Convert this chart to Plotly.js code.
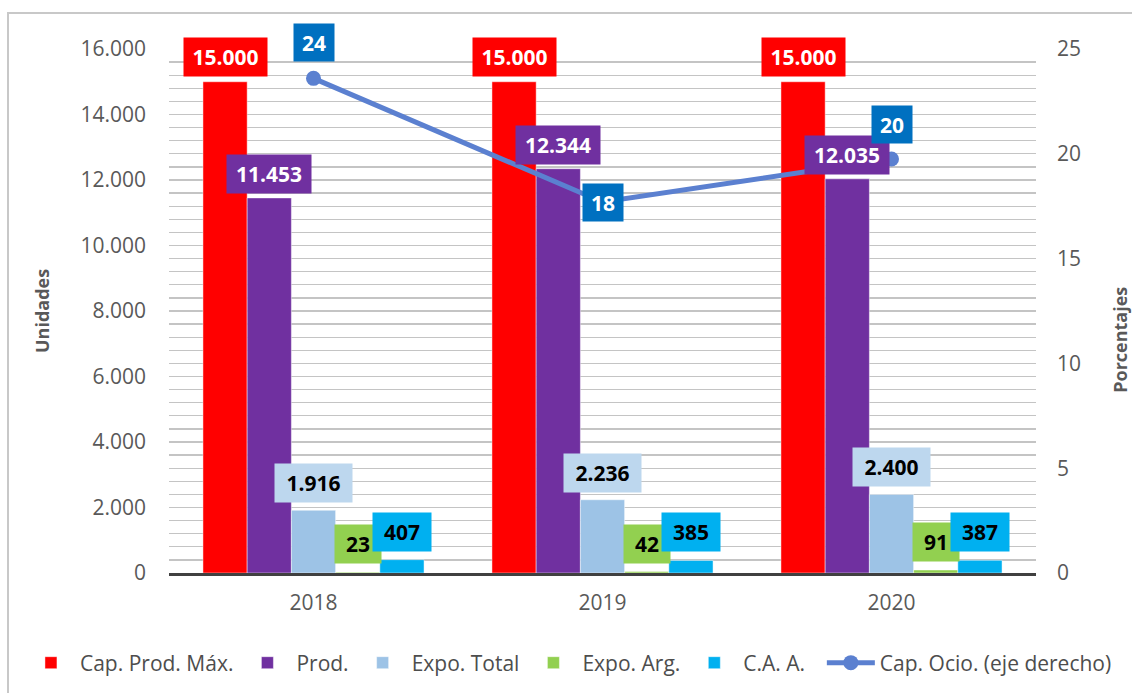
<!DOCTYPE html>
<html>
<head>
<meta charset="utf-8">
<script src="https://cdn.plot.ly/plotly-3.0.1.min.js"></script>
<style>
  html, body { margin: 0; padding: 0; background: #fff; }
  #wrap { position: relative; width: 1132px; height: 693px; overflow: hidden; }
  #chart { position: absolute; left: 0; top: 0; width: 1132px; height: 693px; }
  #frame { position: absolute; left: 7px; top: 12px; width: 1140px; height: 700px;
           border: 2px solid #c8c8c8; pointer-events: none; box-sizing: border-box; }
</style>
</head>
<body>
<div id="wrap"><div id="chart"></div><div id="frame"></div></div>
<script>
// ---- data ----
const categories = ['2018', '2019', '2020'];
const capProdMax = [15000, 15000, 15000];
const prod = [11453, 12344, 12035];
const expoTotal = [1916, 2236, 2400];
const expoArg = [23, 42, 91];
const caa = [407, 385, 387];
const capOcio = [23.6, 17.7, 19.75];
const yTicks = [0, 2000, 4000, 6000, 8000, 10000, 12000, 14000, 16000];
const y2Ticks = [0, 5, 10, 15, 20, 25];

// ---- style ----
const fmt = n => String(Math.round(n)).replace(/\B(?=(\d{3})+(?!\d))/g, '.');
const FONT = 'Open Sans, Liberation Sans, sans-serif';
const barSeries = [
  {name: 'Cap. Prod. Máx.', y: capProdMax, color: '#FF0000', lbg: '#FF0000', lfc: '#FFFFFF', lw: 83, ys: 5},
  {name: 'Prod.', y: prod, color: '#7030A0', lbg: '#7030A0', lfc: '#FFFFFF', lw: 84, ys: 4},
  {name: 'Expo. Total', y: expoTotal, color: '#9DC3E6', lbg: '#BDD7EE', lfc: '#000000', lw: 77, ys: 7},
  {name: 'Expo. Arg.', y: expoArg, color: '#92D050', lbg: '#92D050', lfc: '#000000', lw: 46, ys: 8},
  {name: 'C.A. A.', y: caa, color: '#00B0F0', lbg: '#00B0F0', lfc: '#000000', lw: 58, ys: 8}
];
const bargap = 0.235;
const barW = (1 - bargap) / barSeries.length;
const lineLabel = [{anchor: 'bottom', ys: 16}, {anchor: 'middle', ys: 0}, {anchor: 'bottom', ys: 15}];

const traces = barSeries.map(s => ({
  type: 'bar', name: s.name, x: categories, y: s.y, legend: 'legend',
  marker: {color: s.color, line: {color: 'rgba(255,255,255,0.45)', width: 1}},
  hoverinfo: 'x+y+name'
}));
traces.push({
  type: 'scatter', mode: 'lines+markers', name: 'Cap. Ocio. (eje derecho)',
  x: categories, y: capOcio, yaxis: 'y2', legend: 'legend2',
  line: {color: '#5B80D0', width: 5},
  marker: {color: '#5B80D0', size: 15}
});

const annotations = [];
barSeries.forEach((s, k) => {
  s.y.forEach((v, i) => {
    annotations.push({
      x: i + (k - (barSeries.length - 1) / 2) * barW, y: v, xref: 'x', yref: 'y',
      text: '<b>' + fmt(v) + '</b>', showarrow: false,
      xanchor: 'center', yanchor: 'bottom', yshift: s.ys,
      width: s.lw, height: 38, bgcolor: s.lbg, borderpad: 0,
      font: {family: FONT, size: 21, color: s.lfc}
    });
  });
});
capOcio.forEach((v, i) => {
  annotations.push({
    x: i, y: v, xref: 'x', yref: 'y2',
    text: '<b>' + fmt(v) + '</b>', showarrow: false,
    xanchor: 'center', yanchor: lineLabel[i].anchor, yshift: lineLabel[i].ys,
    width: 40, height: 37, bgcolor: '#0070C0', borderpad: 0,
    font: {family: FONT, size: 21, color: '#FFFFFF'}
  });
});
annotations.push({
  xref: 'paper', yref: 'paper', x: 0, y: 0.5, xshift: -127, xanchor: 'center', yanchor: 'middle',
  text: '<b>Unidades</b>', textangle: -90, showarrow: false,
  font: {family: FONT, size: 18, color: '#595959'}
});
annotations.push({
  xref: 'paper', yref: 'paper', x: 1, y: 0.445, xshift: 84, xanchor: 'center', yanchor: 'middle',
  text: '<b>Porcentajes</b>', textangle: -90, showarrow: false,
  font: {family: FONT, size: 18, color: '#595959'}
});

const legendFont = {family: FONT, size: 21, color: '#4D4D4D'};
const layout = {
  width: 1132, height: 693,
  margin: {l: 169, r: 96, t: 49, b: 120, autoexpand: false},
  paper_bgcolor: '#FFFFFF', plot_bgcolor: '#FFFFFF',
  font: {family: FONT, color: '#595959'},
  separators: ',.',
  barmode: 'group', bargap: bargap, bargroupgap: 0,
  showlegend: true,
  legend: {orientation: 'h', x: -0.1696, xanchor: 'left', y: -0.1718, yanchor: 'middle',
           itemwidth: 48, font: legendFont, traceorder: 'normal'},
  legend2: {orientation: 'h', x: 0.753, xanchor: 'left', y: -0.1718, yanchor: 'middle',
            itemwidth: 48, font: legendFont},
  xaxis: {type: 'category', showgrid: false, zeroline: false, showline: true,
          linecolor: '#404040', linewidth: 3, ticks: '', ticklabelstandoff: 9,
          tickfont: {family: FONT, size: 21, color: '#595959'}},
  yaxis: {range: [0, 16000], tickvals: yTicks, ticktext: yTicks.map(fmt),
          showgrid: true, gridcolor: '#C4C4C4', gridwidth: 1.3, zeroline: false, showline: false,
          ticks: '', ticklabelstandoff: 22,
          minor: {dtick: 400, showgrid: true, gridcolor: '#C4C4C4', gridwidth: 1.3},
          tickfont: {family: FONT, size: 21, color: '#595959'}},
  yaxis2: {range: [0, 25], tickvals: y2Ticks, overlaying: 'y', side: 'right',
           showgrid: false, zeroline: false, showline: false, ticks: '', ticklabelstandoff: 20,
           tickfont: {family: FONT, size: 21, color: '#595959'}},
  annotations: annotations
};

Plotly.newPlot('chart', traces, layout, {displayModeBar: false, staticPlot: true});
</script>
</body>
</html>
